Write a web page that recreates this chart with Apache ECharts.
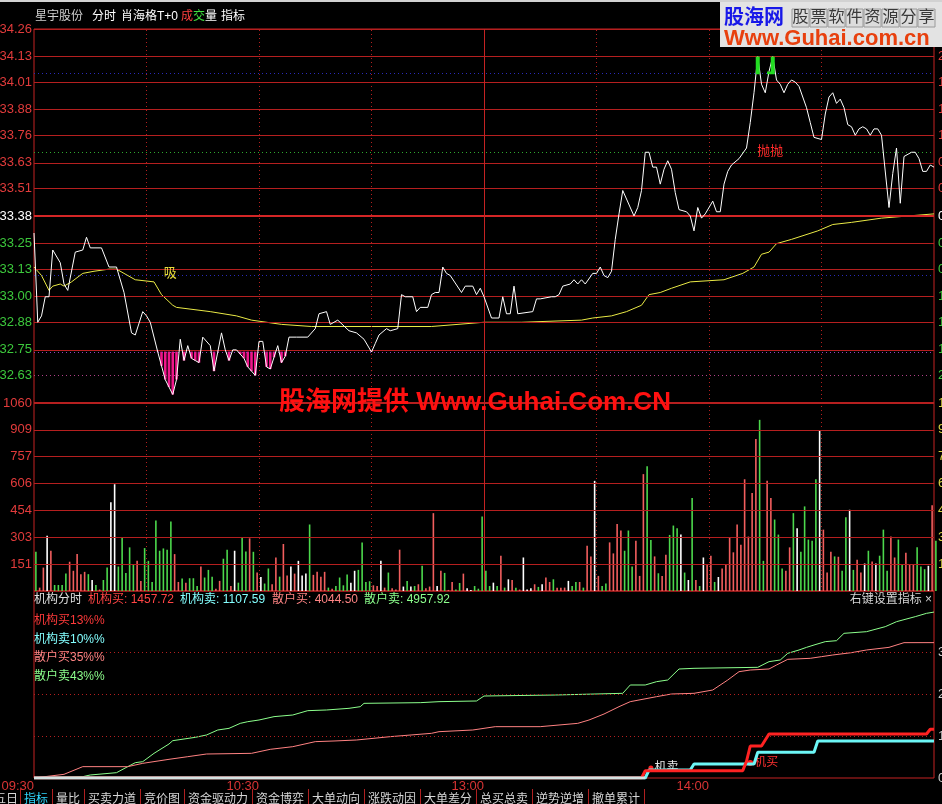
<!DOCTYPE html>
<html><head><meta charset="utf-8">
<script src="https://cdn.jsdelivr.net/npm/echarts@6/dist/echarts.min.js"></script>
<style>html,body{margin:0;padding:0;background:#000;overflow:hidden}#c{width:942px;height:804px}</style>
</head><body><div id="c"></div>
<script>
// ---------------- DATA ----------------
const prevClose = 33.38;
const priceTicks = [34.26,34.13,34.01,33.88,33.76,33.63,33.51,33.38,33.25,33.13,33.00,32.88,32.75,32.63];
const volTicks = [1060,909,757,606,454,303,151];
const lowerTicks = [3765,2510,1255];
const timeTicks = [0,60,120,180];
const timeLabels = ['09:30','10:30','13:00','14:00'];

// minute index (0 = 09:30, 120 = 11:30/13:00, 240 = 15:00), price
const pricePoints = [[0,33.30],[1,32.88],[2,32.91],[3,33.00],[4,33.00],[5,33.22],[7,33.16],[8,33.06],[9,33.03],[11,33.21],[13,33.22],[14,33.28],[15,33.23],[16,33.23],[18,33.23],[20,33.14],[22,33.14],[24,33.02],[26,32.83],[27,32.82],[29,32.93],[30,32.91],[31,32.88],[33,32.74],[35,32.61],[37,32.54],[38,32.61],[39,32.80],[40,32.70],[41,32.77],[42,32.71],[43,32.70],[44,32.69],[45,32.81],[47,32.77],[48,32.65],[50,32.83],[51,32.75],[52,32.70],[53,32.75],[54,32.75],[56,32.71],[57,32.67],[59,32.63],[60,32.79],[61,32.79],[62,32.67],[63,32.66],[65,32.77],[66,32.69],[67,32.72],[68,32.81],[70,32.81],[73,32.81],[75,32.85],[76,32.92],[78,32.93],[79,32.87],[81,32.89],[84,32.84],[86,32.83],[88,32.80],[90,32.74],[91,32.78],[92,32.82],[94,32.85],[95,32.84],[97,32.85],[98,33.01],[99,33.00],[101,33.00],[102,32.93],[103,32.95],[105,32.95],[106,33.01],[107,33.02],[108,33.02],[109,33.14],[110,33.11],[111,33.10],[114,33.02],[115,33.05],[117,33.05],[118,33.01],[119,33.04],[120,33.00],[122,32.90],[124,32.90],[125,33.00],[126,32.92],[127,32.92],[128,33.05],[129,32.92],[133,32.93],[134,32.99],[135,32.99],[138,33.00],[139,33.00],[140,33.01],[141,33.05],[143,33.06],[144,33.08],[145,33.06],[146,33.08],[147,33.06],[149,33.11],[150,33.11],[151,33.14],[152,33.10],[153,33.09],[154,33.12],[155,33.27],[156,33.39],[157,33.50],[158,33.46],[160,33.38],[161,33.42],[162,33.50],[163,33.68],[164,33.68],[165,33.61],[166,33.61],[167,33.53],[168,33.60],[169,33.64],[170,33.60],[171,33.49],[172,33.41],[174,33.40],[175,33.38],[176,33.31],[177,33.42],[178,33.37],[179,33.39],[181,33.45],[182,33.40],[183,33.40],[184,33.53],[185,33.59],[186,33.62],[188,33.65],[190,33.70],[191,33.82],[192,33.96],[193,34.13],[194,34.00],[195,33.96],[196,34.06],[197,34.13],[198,34.02],[199,34.00],[200,33.96],[201,34.00],[202,34.02],[203,34.01],[204,33.99],[206,33.89],[207,33.82],[208,33.75],[210,33.74],[211,33.86],[212,33.94],[213,33.96],[214,33.91],[215,33.93],[216,33.89],[217,33.81],[218,33.80],[219,33.76],[220,33.79],[221,33.80],[222,33.79],[223,33.76],[224,33.79],[225,33.79],[226,33.76],[228,33.42],[229,33.58],[230,33.70],[231,33.44],[232,33.66],[234,33.68],[235,33.68],[236,33.65],[237,33.59],[238,33.59],[239,33.62],[240,33.61]];

const avgPoints = [[0,33.14],[2,33.10],[4,33.03],[5,33.05],[7,33.06],[8,33.05],[10,33.07],[13,33.11],[16,33.12],[20,33.13],[22,33.13],[24,33.11],[27,33.08],[32,33.07],[34,33.01],[37,32.96],[38,32.95],[47,32.93],[54,32.91],[58,32.89],[66,32.87],[74,32.86],[84,32.86],[106,32.86],[120,32.88],[130,32.88],[146,32.89],[149,32.90],[154,32.91],[158,32.93],[162,32.96],[164,33.01],[167,33.02],[170,33.04],[175,33.07],[184,33.08],[189,33.11],[192,33.14],[194,33.20],[196,33.21],[198,33.25],[202,33.27],[209,33.31],[213,33.34],[218,33.35],[226,33.37],[240,33.39]];

// indicator levels drawn as dotted lines
const sellLevel = 34.047, upperBlue = 34.047, greenLevel = 33.68, lowerBlue = 33.098, buyLevel = 32.742;
const signalXi = [36.3, 33.112];
const signalPao = [196.3, 33.685];

const volumes = [221,19,132,312,227,34,34,34,98,165,
114,208,95,108,95,62,34,8,62,132,
501,602,138,303,102,246,151,170,57,242,
170,51,397,227,240,233,392,208,51,70,
47,72,72,28,138,76,119,81,13,57,
182,233,28,227,47,303,223,297,221,104,
79,42,127,38,189,81,265,87,138,98,
170,87,98,375,91,108,81,108,19,13,
28,76,32,93,47,114,119,273,51,55,
32,28,170,19,104,15,9,233,25,57,
25,28,38,142,15,25,439,28,114,102,
6,51,9,45,98,15,6,28,13,420,
114,28,47,28,199,19,66,62,19,8,
189,9,15,38,23,38,76,51,66,19,
19,19,57,28,51,51,19,255,195,621,
85,28,42,274,212,378,341,227,341,138,
284,85,659,704,288,195,100,85,204,316,
369,354,318,104,62,524,62,28,189,148,
199,51,79,127,151,303,218,375,261,630,
307,553,857,965,170,621,524,403,318,127,
114,246,439,354,221,477,290,284,630,905,
346,104,221,195,193,114,416,458,119,176,
104,155,227,167,155,199,346,114,307,189,
290,151,216,151,151,246,138,123,142,483,
284];
// r = up, g = down, w = flat
const volDirs = ('grrwrggggr'+'rrrrgwgrgg'+'wwgggggrrg'+'gggggggrrg'+'rgggrgggrr'+'ggrwgggrgr'+'wggrrgrrwr'+'wwwgrrrrgr'+'ggggwwgggg'+'rrwrgrrrwg'+'wgrgrrrwrg'+'rrggrwwggg'+'ggwgrgwrgr'+'wwwrgwrrgr'+'rrwggrgrrw'+'rggrrrrggg'+'rrrggrgrrg'+'ggwgwgrgwr'+'rgwrrrrrrr'+'rrrggrrggg'+'rrgwgggggw'+'rrrgrggwgr'+'rwgrwgggrr'+'ggrrrgggwr'+'g').split('');

const instBuy = [[0,0],[162,0],[163,219],[189,219],[190,500],[191,956],[194,956],[196,1315],[238,1315],[239,1458],[240,1458]];
const instSell = [[0,0],[163,0],[164,239],[175,239],[176,418],[192,418],[193,767],[208,767],[209,1108],[240,1108]];
const retailBuy = [[0,0],[8,110],[13,339],[25,339],[29,438],[36,558],[41,637],[46,717],[58,737],[63,857],[69,936],[75,1086],[80,1106],[86,1135],[95,1235],[106,1335],[108,1384],[117,1434],[123,1534],[135,1534],[145,1633],[148,1733],[152,1912],[156,2131],[159,2281],[166,2430],[170,2510],[176,2530],[181,2629],[185,2928],[188,3177],[191,3227],[196,3257],[198,3376],[201,3546],[207,3576],[210,3626],[213,3675],[218,3745],[222,3825],[228,3904],[232,4044],[240,4045]];
const retailSell = [[0,0],[13,40],[15,90],[22,159],[25,339],[27,458],[29,488],[32,737],[36,1016],[37,1115],[43,1215],[46,1285],[49,1434],[52,1484],[55,1633],[57,1683],[60,1733],[64,1833],[69,1882],[73,2012],[78,2032],[84,2082],[87,2131],[88,2231],[103,2251],[108,2281],[118,2301],[120,2450],[139,2480],[157,2530],[159,2779],[163,2779],[166,2878],[169,2928],[172,3257],[176,3277],[193,3307],[196,3476],[199,3526],[201,3725],[204,3825],[206,3904],[208,3974],[211,4074],[214,4103],[216,4323],[222,4372],[227,4522],[230,4671],[235,4821],[238,4920],[240,4958]];
const totalNames = ['机构买','机构卖','散户买','散户卖'];
const totalValues = [1457.72, 1107.59, 4044.50, 4957.92];
const totalPcts = [13, 10, 35, 43];
const markInstSell = [164.5, 300];
const markInstBuy = [191, 450];

const tabNames = ['指标','量比','买卖力道','竞价图','资金驱动力','资金博弈','大单动向','涨跌动因','大单差分','总买总卖','逆势逆增','撤单累计'];

// ---------------- STYLE ----------------
const NUM = 'Liberation Sans, Arial, sans-serif';
const CJK = 'Liberation Sans, Noto Sans CJK SC, sans-serif';
const GRID_RED = '#b51f1f';
const LBL_RED = '#e23b3b', LBL_GRN = '#3cc83c';
const VOL_UP = '#f25e5e', VOL_DN = '#4cd84c', VOL_FLAT = '#ffffff';
const CLEAR = 'rgba(0,0,0,0)';
const lowerMax = 187 * 29.88;

function priceAt(m){
  for (let i=1;i<pricePoints.length;i++){
    const a=pricePoints[i-1], b=pricePoints[i];
    if (m<=b[0]) return a[1]+(b[1]-a[1])*(m-a[0])/(b[0]-a[0]);
  }
  return pricePoints[pricePoints.length-1][1];
}

const vLines = [30,60,90,150,180,210].map(v=>({xAxis:v, lineStyle:{color:GRID_RED,type:[1,3],width:1}, label:{show:false}}))
  .concat([{xAxis:120, lineStyle:{color:'#c42222',type:'solid',width:1}, label:{show:false}}]);

const priceLines = [];
priceTicks.forEach(v=>{
  const isPrev = v===prevClose;
  const col = v>prevClose?LBL_RED:(v<prevClose?LBL_GRN:'#ffffff');
  let ls = {color:GRID_RED,width:1,type:'solid'};
  if (isPrev) ls = {color:'#d42626',width:2,type:'solid'};
  if (v===32.63) ls = {color:'#b04088',width:1,type:[1,3]};
  priceLines.push({yAxis:v, lineStyle:ls, label:{show:true,position:'start',distance:2,formatter:v.toFixed(2),color:col,fontSize:13,fontFamily:NUM}});
  priceLines.push({yAxis:v, lineStyle:{color:CLEAR,width:1}, label:{show:true,position:'end',distance:4,formatter:(Math.abs(v-prevClose)/prevClose*100).toFixed(2)+'%',color:col,fontSize:13,fontFamily:NUM}});
});
[[upperBlue,'#2a2ab8'],[greenLevel,'#2fa82f'],[lowerBlue,'#2a2ab8'],[buyLevel,'#9040b8']].forEach(p=>{
  priceLines.push({yAxis:p[0], lineStyle:{color:p[1],width:1,type:[1,3]}, label:{show:false}});
});

const volLines = [];
volTicks.forEach(v=>{
  volLines.push({yAxis:v, lineStyle:{color:GRID_RED,width:v===1060?2:1,type:'solid'}, label:{show:true,position:'start',distance:2,formatter:String(v),color:LBL_RED,fontSize:13,fontFamily:NUM}});
  volLines.push({yAxis:v, lineStyle:{color:CLEAR,width:1}, label:{show:true,position:'end',distance:4,formatter:String(v),color:'#d6d040',fontSize:13,fontFamily:NUM}});
});

const lowLines = [];
lowerTicks.forEach(v=>{
  lowLines.push({yAxis:v, lineStyle:{color:GRID_RED,width:1,type:[1,3]}, label:{show:true,position:'end',distance:4,formatter:String(v),color:'#c8c8c8',fontSize:13,fontFamily:NUM}});
});
lowLines.push({yAxis:0, lineStyle:{color:CLEAR,width:1}, label:{show:true,position:'end',distance:4,formatter:'0',color:'#c8c8c8',fontSize:13,fontFamily:NUM}});

function stripeSeries(isLow){
  return {
    type:'custom', xAxisIndex:0, yAxisIndex:0, z: isLow?3:6, silent:true,
    data:[[0, isLow?buyLevel:sellLevel]],
    renderItem:(params, api)=>{
      const children=[];
      for (let m=0;m<=240;m++){
        const p=priceAt(m);
        if (isLow && p<buyLevel){
          const a=api.coord([m,buyLevel]), b=api.coord([m,p]);
          children.push({type:'line',shape:{x1:a[0],y1:a[1],x2:b[0],y2:b[1]},style:{stroke:'#ee168a',lineWidth:2.6}});
        }
        if (!isLow && p>sellLevel){
          const a=api.coord([m,sellLevel]), b=api.coord([m,p]);
          children.push({type:'line',shape:{x1:a[0],y1:a[1],x2:b[0],y2:b[1]},style:{stroke:'#22dd22',lineWidth:4}});
        }
      }
      return {type:'group',children};
    }
  };
}

const markerLineOpts = (data)=>({silent:true,symbol:['none','none'],animation:false,data});

const grids = [
  {left:34,right:8,top:29,height:374},
  {left:34,right:8,top:403,height:188},
  {left:34,right:8,top:591,height:187}
].map(g=>Object.assign(g,{show:true,borderColor:'#c42222',borderWidth:1,backgroundColor:'transparent',containLabel:false,outerBoundsMode:'none'}));

const xAxes = [0,1,2].map(i=>({
  type:'value', gridIndex:i, min:0, max:240, interval:60,
  axisLine:{show:false}, axisTick:{show:false}, splitLine:{show:false},
  axisLabel: i===2 ? {show:true, showMinLabel:true, showMaxLabel:false, align:'right', margin:2, color:'#d83434', fontSize:13, fontFamily:NUM,
     formatter:(v)=>{const k=timeTicks.indexOf(v); return k>=0?timeLabels[k]:'';}} : {show:false}
}));
const yAxes = [
  {type:'value', gridIndex:0, min:32.50, max:34.26},
  {type:'value', gridIndex:1, min:0, max:1060},
  {type:'value', gridIndex:2, min:0, max:lowerMax}
].map(a=>Object.assign(a,{axisLine:{show:false},axisTick:{show:false},splitLine:{show:false},axisLabel:{show:false}}));

const series = [
  {type:'line', xAxisIndex:0, yAxisIndex:0, data:[], z:1, silent:true, markLine:markerLineOpts(priceLines.concat(vLines))},
  {type:'line', xAxisIndex:1, yAxisIndex:1, data:[], z:1, silent:true, markLine:markerLineOpts(volLines.concat(vLines))},
  {type:'line', xAxisIndex:2, yAxisIndex:2, data:[], z:1, silent:true, markLine:markerLineOpts(lowLines)},
  stripeSeries(true),
  {type:'line', xAxisIndex:0, yAxisIndex:0, data:avgPoints, showSymbol:false, z:4, lineStyle:{color:'#eaea46',width:1},
    markPoint:{silent:true,animation:false,data:[{coord:signalXi,symbol:'circle',symbolSize:1,itemStyle:{color:CLEAR},label:{show:true,position:'inside',formatter:'吸',color:'#e6dc3c',fontSize:13,fontFamily:CJK}}]}},
  {type:'line', xAxisIndex:0, yAxisIndex:0, data:pricePoints, showSymbol:false, z:5, lineStyle:{color:'#ffffff',width:1},
    markPoint:{silent:true,animation:false,data:[{coord:signalPao,symbol:'circle',symbolSize:1,itemStyle:{color:CLEAR},label:{show:true,position:'inside',formatter:'抛抛',color:'#ff2a2a',fontSize:13,fontFamily:CJK}}]}},
  stripeSeries(false),
  {type:'bar', xAxisIndex:1, yAxisIndex:1, barWidth:1.6, clip:false, z:3,
    data:volumes.map((v,k)=>({value:[k+0.5,v], itemStyle:{color: volDirs[k]==='r'?VOL_UP:(volDirs[k]==='g'?VOL_DN:VOL_FLAT)}}))},
  {type:'line', xAxisIndex:2, yAxisIndex:2, data:retailSell, showSymbol:false, z:4, lineStyle:{color:'#8cff8c',width:1}},
  {type:'line', xAxisIndex:2, yAxisIndex:2, data:retailBuy, showSymbol:false, z:4, lineStyle:{color:'#ff8282',width:1}},
  {type:'line', xAxisIndex:2, yAxisIndex:2, data:instSell, showSymbol:false, z:5, lineStyle:{color:'#6cf6f6',width:3},
    markPoint:{silent:true,animation:false,data:[{coord:markInstSell,symbol:'circle',symbolSize:5,itemStyle:{color:'#ff2020'},label:{show:true,position:'right',distance:1,formatter:'机卖',color:'#e6e6e6',fontSize:12,fontFamily:CJK}}]}},
  {type:'line', xAxisIndex:2, yAxisIndex:2, data:instBuy, showSymbol:false, z:6, lineStyle:{color:'#ff2222',width:3},
    markPoint:{silent:true,animation:false,data:[{coord:markInstBuy,symbol:'circle',symbolSize:6,itemStyle:{color:'#ff2020'},label:{show:true,position:'right',distance:1,formatter:'机买',color:'#ff3030',fontSize:12,fontFamily:CJK}}]}},
  {type:'line', xAxisIndex:2, yAxisIndex:2, data:instSell.filter(p=>p[1]===0), showSymbol:false, z:7, lineStyle:{color:'#d4e2e2',width:3}}
];

// ---------------- GRAPHIC (text, logo) ----------------
const g = [];
const txt = (text,x,y,fill,size,opts)=>Object.assign({type:'text',x,y,z:50,silent:true,style:Object.assign({text,fill,fontSize:size,fontFamily:CJK,verticalAlign:'middle',align:'left'},opts||{})});
g.push({type:'rect',shape:{x:0,y:0,width:942,height:2},style:{fill:'#d2d2d2'},z:50,silent:true});
g.push(txt('星宇股份',35,17,'#cfcfcf',12));
g.push(txt('分时',92,17,'#ffffff',12));
g.push(txt('肖海格T+0',121,17,'#ffffff',12));
g.push(txt('成',181,17,'#ff4040',12));
g.push(txt('交',193,17,'#40e040',12));
g.push(txt('量',205,17,'#ffffff',12));
g.push(txt('指标',221,17,'#ffffff',12));

// lower panel header
g.push(txt('机构分时',34,600,'#e0e0e0',12));
const hdrX = [88,180,272,364];
const hdrCol = ['#ff4444','#84ffff','#ff8484','#8cff8c'];
totalNames.forEach((n,i)=>{
  g.push(txt(n+': '+totalValues[i].toFixed(2),hdrX[i],600,hdrCol[i],12));
  g.push(txt(n+totalPcts[i]+'%%',34,621+i*18.4,hdrCol[i]==='#ff4444'?'#ff3a3a':hdrCol[i],12));
});
g.push(txt('右键设置指标 ×',932,600,'#d4d4d4',12,{align:'right'}));

// watermark
g.push(txt('股海网提供 Www.Guhai.Com.CN',279,403,'#ff1010',26,{fontWeight:'bold',fontFamily:'Liberation Sans, Noto Sans CJK SC, sans-serif'}));

// logo
g.push({type:'rect',shape:{x:720,y:2,width:222,height:45},style:{fill:'#e3e3e3'},z:60,silent:true});
g.push(Object.assign(txt('股海网',724,18,'#1818e8',20,{fontWeight:'bold'}),{z:61}));
const logoChars = '股票软件资源分享'.split('');
logoChars.forEach((c,i)=>{
  g.push({type:'rect',shape:{x:792+i*18,y:9,width:17,height:18},style:{fill:'#dcdcdc',stroke:'#9a9a9a',lineWidth:1},z:61,silent:true});
  g.push(Object.assign(txt(c,792+i*18+8.5,18,'#383838',16,{align:'center'}),{z:62}));
});
g.push(Object.assign(txt('Www.Guhai.com.cn',724,38.5,'#e8400e',22,{fontWeight:'bold',fontFamily:NUM}),{z:61}));

// bottom tabs
g.push(txt('五日',18,800,'#d6d6d6',12,{align:'right'}));
let tx = 24;
tabNames.forEach((n,i)=>{
  g.push({type:'line',shape:{x1:tx-3.5,y1:789,x2:tx-3.5,y2:804},style:{stroke:'#b02020',lineWidth:1},z:50,silent:true});
  g.push(txt(n,tx,800,i===0?'#30d8ff':'#d6d6d6',12));
  tx += 12*n.length + 8;
});
g.push({type:'line',shape:{x1:tx-3.5,y1:789,x2:tx-3.5,y2:804},style:{stroke:'#b02020',lineWidth:1},z:50,silent:true});

const chart = echarts.init(document.getElementById('c'), null, {renderer:'canvas', width:942, height:804});
chart.setOption({
  backgroundColor:'#000000',
  animation:false,
  grid:grids, xAxis:xAxes, yAxis:yAxes, series, graphic:g
});
</script>
</body></html>
